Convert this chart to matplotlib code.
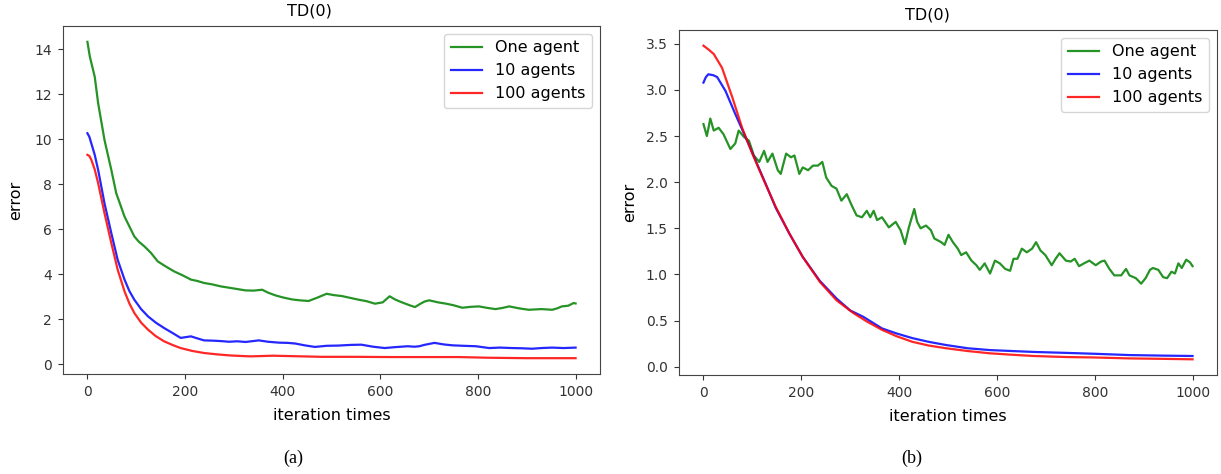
import matplotlib
matplotlib.use("Agg")
import matplotlib.pyplot as plt

# ---------------- data: panel (a) ----------------
a_green_it = [0, 5, 15, 22, 35, 49, 59, 76, 96, 105, 117, 130, 144, 160, 178, 195, 212, 225, 239,
              255, 273, 290, 307, 324, 340, 358, 370, 385, 400, 419, 435, 453, 470, 490, 505, 521,
              538, 555, 572, 589, 605, 619, 630, 643, 660, 671, 680, 690, 700, 718, 735, 750, 768,
              785, 802, 820, 836, 850, 864, 885, 904, 930, 952, 962, 972, 985, 996, 1000]
a_green = [14.32, 13.66, 12.77, 11.59, 9.96, 8.63, 7.6, 6.56, 5.68, 5.45, 5.23, 4.95, 4.57, 4.35,
           4.12, 3.95, 3.76, 3.70, 3.61, 3.55, 3.46, 3.40, 3.34, 3.28, 3.27, 3.31, 3.18, 3.06, 2.97,
           2.88, 2.84, 2.81, 2.95, 3.13, 3.07, 3.03, 2.95, 2.87, 2.80, 2.69, 2.75, 3.02, 2.88, 2.76,
           2.62, 2.54, 2.66, 2.78, 2.84, 2.75, 2.69, 2.62, 2.51, 2.55, 2.57, 2.50, 2.45, 2.50, 2.57,
           2.48, 2.42, 2.45, 2.42, 2.48, 2.57, 2.60, 2.72, 2.70]

a_blue_it = [0, 4, 8, 15, 22, 35, 49, 62, 76, 86, 96, 110, 124, 140, 157, 175, 191, 200, 212, 225,
             239, 255, 273, 290, 307, 324, 351, 370, 392, 410, 426, 445, 466, 490, 514, 540, 561,
             585, 609, 630, 656, 670, 680, 690, 711, 730, 748, 770, 796, 823, 845, 870, 890, 911,
             930, 952, 975, 1000]
a_blue = [10.26, 10.1, 9.81, 9.3, 8.63, 7.15, 5.82, 4.64, 3.76, 3.25, 2.87, 2.45, 2.13, 1.85, 1.61,
          1.38, 1.17, 1.20, 1.24, 1.15, 1.06, 1.05, 1.03, 1.00, 1.02, 0.99, 1.06, 1.00, 0.96, 0.95,
          0.92, 0.84, 0.77, 0.82, 0.83, 0.86, 0.87, 0.78, 0.72, 0.76, 0.80, 0.78, 0.80, 0.86, 0.95,
          0.88, 0.84, 0.82, 0.80, 0.72, 0.74, 0.72, 0.71, 0.69, 0.72, 0.74, 0.72, 0.74]

a_red_it = [0, 4, 8, 15, 22, 35, 49, 62, 76, 86, 96, 110, 124, 140, 157, 175, 191, 215, 239, 265,
            293, 334, 380, 420, 480, 550, 620, 700, 760, 820, 900, 1000]
a_red = [9.30, 9.25, 9.08, 8.65, 8.04, 6.71, 5.38, 4.20, 3.24, 2.70, 2.28, 1.85, 1.54, 1.25, 1.02,
         0.85, 0.72, 0.59, 0.50, 0.44, 0.39, 0.35, 0.38, 0.36, 0.33, 0.33, 0.32, 0.32, 0.32, 0.29,
         0.27, 0.27]

# ---------------- data: panel (b) ----------------
b_green_it = [0, 7, 14, 21, 31, 41, 55, 65, 72, 83, 93, 103, 114, 124, 131, 141, 152, 158, 169, 179,
              186, 196, 203, 214, 224, 234, 243, 251, 262, 272, 282, 293, 303, 313, 324, 334, 341,
              348, 355, 365, 379, 393, 403, 412, 420, 431, 437, 444, 455, 465, 472, 486, 493, 501,
              510, 520, 527, 537, 548, 558, 565, 575, 586, 596, 606, 617, 627, 634, 642, 651, 661,
              672, 680, 689, 699, 712, 720, 728, 741, 751, 759, 768, 778, 789, 802, 813, 820, 830,
              840, 854, 864, 871, 884, 895, 904, 913, 919, 930, 940, 948, 957, 964, 971, 978, 987,
              995, 1000]
b_green = [2.63, 2.50, 2.69, 2.56, 2.59, 2.52, 2.36, 2.42, 2.56, 2.49, 2.45, 2.29, 2.22, 2.34, 2.22,
           2.31, 2.13, 2.09, 2.31, 2.27, 2.29, 2.09, 2.16, 2.13, 2.18, 2.18, 2.22, 2.05, 1.96, 1.93,
           1.80, 1.87, 1.75, 1.64, 1.62, 1.69, 1.62, 1.69, 1.59, 1.62, 1.51, 1.57, 1.48, 1.33, 1.51,
           1.71, 1.57, 1.50, 1.53, 1.48, 1.39, 1.35, 1.32, 1.43, 1.35, 1.28, 1.21, 1.24, 1.15, 1.10,
           1.05, 1.12, 1.01, 1.15, 1.12, 1.06, 1.04, 1.17, 1.17, 1.28, 1.24, 1.28, 1.35, 1.26, 1.21,
           1.10, 1.17, 1.23, 1.15, 1.14, 1.17, 1.09, 1.12, 1.15, 1.10, 1.14, 1.15, 1.06, 0.99, 0.99,
           1.06, 0.99, 0.96, 0.90, 0.96, 1.05, 1.07, 1.05, 0.97, 0.96, 1.03, 1.01, 1.12, 1.07, 1.16,
           1.13, 1.09]

b_blue_it = [0, 5, 10, 20, 28, 45, 65, 86, 107, 125, 148, 176, 203, 238, 272, 300, 327, 365, 395,
             427, 460, 496, 540, 586, 630, 675, 740, 800, 871, 940, 1000]
b_blue = [3.08, 3.14, 3.17, 3.16, 3.14, 2.99, 2.74, 2.49, 2.23, 2.01, 1.72, 1.44, 1.19, 0.93, 0.74,
          0.61, 0.54, 0.415, 0.36, 0.31, 0.27, 0.235, 0.20, 0.18, 0.17, 0.16, 0.15, 0.14, 0.126,
          0.12, 0.116]

b_red_it = [0, 10, 21, 38, 59, 79, 100, 121, 148, 176, 203, 238, 272, 307, 334, 365, 395, 427, 460,
            496, 540, 586, 630, 675, 740, 800, 870, 940, 1000]
b_red = [3.48, 3.44, 3.39, 3.24, 2.92, 2.59, 2.31, 2.05, 1.73, 1.44, 1.19, 0.92, 0.72, 0.58, 0.49,
         0.40, 0.33, 0.27, 0.23, 0.20, 0.17, 0.145, 0.13, 0.116, 0.105, 0.10, 0.09, 0.085, 0.08]

labels = ["One agent", "10 agents", "100 agents"]
colors = ["green", "blue", "red"]
title = "TD(0)"
xlabel = "iteration times"
ylabel = "error"
captions = ["(a)", "(b)"]

fig = plt.figure(figsize=(12.21, 4.74), dpi=100)
ax_a = fig.add_axes([63 / 1221, 1 - 374 / 474, 537 / 1221, 348 / 474])
ax_b = fig.add_axes([679 / 1221, 1 - 375 / 474, 538 / 1221, 345 / 474])

panels = [
    (ax_a, [(a_green_it, a_green), (a_blue_it, a_blue), (a_red_it, a_red)], 0.458, 8),
    (ax_b, [(b_green_it, b_green), (b_blue_it, b_blue), (b_red_it, b_red)], 0.461, 6),
]
for ax, series, tx, ypad in panels:
    for (xs, ys), lab, col in zip(series, labels, colors):
        ax.plot(xs, ys, color=col, lw=1.6, label=lab, alpha=0.85)
    ax.set_title(title, fontsize=11.5, x=tx, pad=7.5)
    ax.set_xlabel(xlabel, fontsize=11.5, labelpad=6)
    ax.set_ylabel(ylabel, fontsize=11.5, labelpad=ypad)
    ax.tick_params(labelsize=10, length=3.6, pad=4.5, colors="#333333", labelcolor="#333333")
    for sp in ax.spines.values():
        sp.set_color("#444444")
    ax.legend(loc="upper right", fontsize=11.5)

fig.text(293 / 1221, 1 - 458 / 474, captions[0], ha="center", va="center",
         family="Liberation Serif", fontsize=13)
fig.text(912 / 1221, 1 - 458 / 474, captions[1], ha="center", va="center",
         family="Liberation Serif", fontsize=13)

fig.savefig("out.png", dpi=100)
